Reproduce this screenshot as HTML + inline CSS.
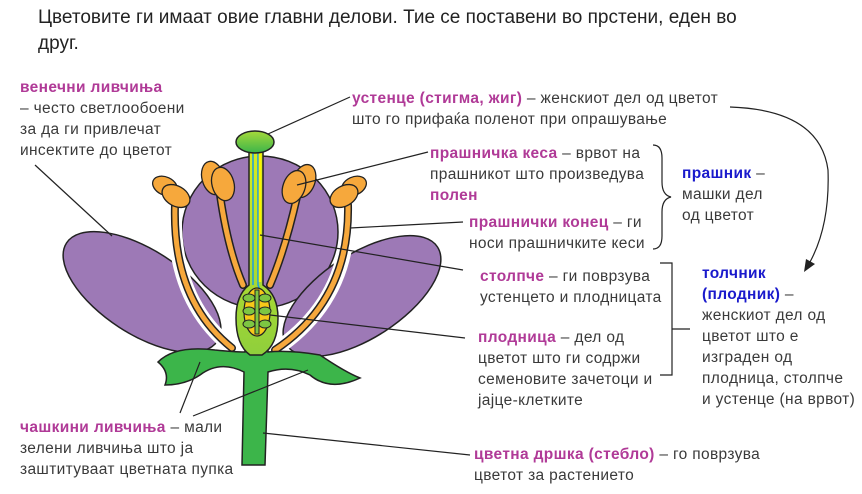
<!DOCTYPE html>
<html><head><meta charset="utf-8"><style>
body{margin:0;width:862px;height:494px;background:#fff;position:relative;overflow:hidden;font-family:"Liberation Sans","DejaVu Sans",sans-serif;}
.t{position:absolute;font-size:15.5px;letter-spacing:0.35px;color:#3a3a3a;line-height:21px;white-space:nowrap;}
.m{color:#b03a97;font-weight:bold;}
.b{color:#1a1acc;font-weight:bold;}
.h{position:absolute;left:38px;font-size:19px;color:#222;line-height:26px;white-space:nowrap;}
svg{position:absolute;left:0;top:0;}
</style></head><body>
<div class="h" style="top:5px">Цветовите ги имаат овие главни делови. Тие се поставени во прстени, еден во<br>друг.</div>

<svg width="862" height="494" viewBox="0 0 862 494">
<defs>
<linearGradient id="g" x1="0" y1="0" x2="0" y2="1"><stop offset="0" stop-color="#a6d93a"/><stop offset="1" stop-color="#3cb54a"/></linearGradient>
<linearGradient id="sg" x1="0" y1="0" x2="0" y2="1"><stop offset="0" stop-color="#d8ec20"/><stop offset="1" stop-color="#8fcf3c"/></linearGradient>
</defs>
<ellipse cx="260" cy="232" rx="78" ry="76" fill="#9d79b6" stroke="#222" stroke-width="1.5"/>
<ellipse cx="142" cy="292" rx="90" ry="42" transform="rotate(33 142 292)" fill="#9d79b6" stroke="#222" stroke-width="1.5"/>
<ellipse cx="362" cy="296" rx="90" ry="42" transform="rotate(-33 362 296)" fill="#9d79b6" stroke="#222" stroke-width="1.5"/>
<g fill="none" stroke="#fff" stroke-width="14" stroke-linecap="round">
<path d="M175 210 Q172 300 232 348"/><path d="M348 210 Q350 300 275 350"/>
</g>
<g fill="none" stroke="#222" stroke-width="8" stroke-linecap="round">
<path d="M175 205 Q172 300 232 348"/><path d="M220 195 Q228 250 243 285"/>
<path d="M297 197 Q285 250 270 285"/><path d="M348 205 Q350 300 275 350"/>
</g>
<g fill="none" stroke="#f6a83c" stroke-width="5" stroke-linecap="round">
<path d="M175 205 Q172 300 232 348"/><path d="M220 195 Q228 250 243 285"/>
<path d="M297 197 Q285 250 270 285"/><path d="M348 205 Q350 300 275 350"/>
</g>
<g fill="#f6a83c" stroke="#222" stroke-width="1.3">
<ellipse cx="165" cy="186" rx="13" ry="9" transform="rotate(25 165 186)"/><ellipse cx="176" cy="196" rx="15" ry="10" transform="rotate(30 176 196)"/>
<ellipse cx="213" cy="178" rx="11" ry="17" transform="rotate(-15 213 178)"/><ellipse cx="223" cy="184" rx="11" ry="17" transform="rotate(-15 223 184)"/>
<ellipse cx="304" cy="181" rx="11" ry="17" transform="rotate(20 304 181)"/><ellipse cx="294" cy="187" rx="11" ry="17" transform="rotate(20 294 187)"/>
<ellipse cx="354" cy="186" rx="13" ry="9" transform="rotate(-25 354 186)"/><ellipse cx="344" cy="196" rx="15" ry="10" transform="rotate(-30 344 196)"/>
</g>
<path d="M158 362 Q175 345 215 350 Q235 352 245 352 L245 345 L268 345 L268 352 Q290 350 320 355 Q345 372 360 378 Q330 392 310 375 Q290 365 268 372 L265 465 L242 465 L244 372 Q220 360 200 375 Q185 385 165 385 Q170 372 158 362 Z" fill="#3cb54a" stroke="#222" stroke-width="1.5"/>
<path d="M249 150 L249 285 Q236 295 236 318 Q236 345 250 355 L262 355 Q278 345 278 318 Q278 295 263 285 L263 150 Z" fill="url(#sg)" stroke="#222" stroke-width="1.5"/>
<path d="M253 150 L253 285" stroke="#1a9de0" stroke-width="1.5" fill="none"/>
<path d="M258 150 L258 285 Q262 295 263 303" stroke="#1a9de0" stroke-width="1.5" fill="none"/>
<path d="M260 150 L260 282" stroke="#fff200" stroke-width="2.5" fill="none"/>
<ellipse cx="257" cy="312" rx="13" ry="24" fill="#f7c919" stroke="#222" stroke-width="1.2"/>
<g fill="#7dc642" stroke="#222" stroke-width="1">
<rect x="255" y="290" width="4" height="44"/>
<ellipse cx="249" cy="298" rx="6" ry="4"/><ellipse cx="265" cy="298" rx="6" ry="4"/>
<ellipse cx="249" cy="311" rx="6" ry="4"/><ellipse cx="265" cy="311" rx="6" ry="4"/>
<ellipse cx="249" cy="324" rx="6" ry="4"/><ellipse cx="265" cy="324" rx="6" ry="4"/>
</g>
<ellipse cx="255" cy="142" rx="19" ry="11" fill="url(#g)" stroke="#222" stroke-width="1.5"/>
<g stroke="#222" stroke-width="1.2" fill="none">
<line x1="268" y1="134" x2="350" y2="97"/>
<line x1="35" y1="165" x2="112" y2="236"/>
<line x1="297" y1="185" x2="428" y2="152"/>
<line x1="350" y1="228" x2="463" y2="222"/>
<line x1="260" y1="235" x2="463" y2="270"/>
<line x1="270" y1="315" x2="465" y2="338"/>
<line x1="200" y1="362" x2="180" y2="413"/>
<line x1="308" y1="370" x2="193" y2="416"/>
<line x1="263" y1="433" x2="470" y2="455"/>
<path d="M730 107 Q820 110 828 170 Q830 225 810 262"/>
<path d="M653 145 Q662 145 662 158 L662 182 Q662 195 671 197 Q662 199 662 212 L662 236 Q662 249 653 249"/>
<path d="M660 263 L672 263 L672 375 L660 375 M672 329 L690 329"/>
</g>
<polygon points="804,272 815,264 806,259" fill="#222"/>
</svg>

<div class="t" style="left:20px;top:77px"><span class="m">венечни ливчиња</span><br>– често светлообоени<br>за да ги привлечат<br>инсектите до цветот</div>
<div class="t" style="left:352px;top:88px"><span class="m">устенце (стигма, жиг)</span> – женскиот дел од цветот<br>што го прифаќа поленот при опрашување</div>
<div class="t" style="left:430px;top:143px"><span class="m">прашничка кеса</span> – врвот на<br>прашникот што произведува<br><span class="m">полен</span></div>
<div class="t" style="left:469px;top:212px"><span class="m">прашнички конец</span> – ги<br>носи прашничките кеси</div>
<div class="t" style="left:682px;top:163px"><span class="b">прашник</span> –<br>машки дел<br>од цветот</div>
<div class="t" style="left:480px;top:266px"><span class="m">столпче</span> – ги поврзува<br>устенцето и плодницата</div>
<div class="t" style="left:478px;top:327px"><span class="m">плодница</span> –  дел од<br>цветот што ги содржи<br>семеновите зачетоци и<br>јајце-клетките</div>
<div class="t" style="left:702px;top:263px"><span class="b">толчник<br>(плодник)</span> –<br>женскиот дел од<br>цветот што е<br>изграден од<br>плодница, столпче<br>и устенце (на врвот)</div>
<div class="t" style="left:20px;top:417px"><span class="m">чашкини ливчиња</span> – мали<br>зелени ливчиња што ја<br>заштитуваат цветната пупка</div>
<div class="t" style="left:474px;top:444px"><span class="m">цветна дршка (стебло)</span> – го поврзува<br>цветот за растението</div>
</body></html>
